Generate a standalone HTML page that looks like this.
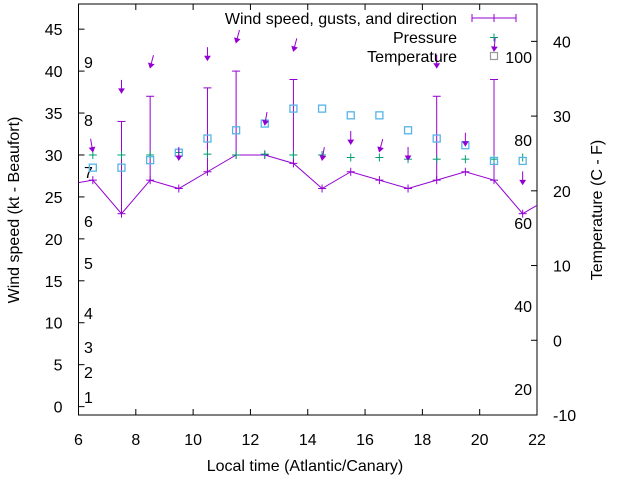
<!DOCTYPE html>
<html><head><meta charset="utf-8"><style>
html,body{margin:0;padding:0;background:#fff;}
svg{display:block;font-family:"Liberation Sans",sans-serif;}
</style></head><body>
<svg id="chart" width="640" height="480" viewBox="0 0 640 480" xmlns="http://www.w3.org/2000/svg"></svg>
<script>
const hours = [6.5,7.5,8.5,9.5,10.5,11.5,12.5,13.5,14.5,15.5,16.5,17.5,18.5,19.5,20.5,21.5];
const windSpeed = [27,23,27,26,28,30,30,29,26,28,27,26,27,28,27,23];
const windBefore = 26.4;
const windAfter = 25;
const gusts = [27,34,37,26,38,40,30,39,26,28,27,26,37,28,39,23];
const pressure = [30.0,30.0,30.0,30.3,30.1,30.0,30.1,30.0,30.0,29.7,29.7,29.5,29.5,29.5,29.5,29.7];
const temperature = [23.1,23.1,24.1,25.1,27.0,28.1,29.0,31.0,31.0,30.1,30.1,28.1,27.0,26.1,24.0,24.0];
const arrowLevel = [30.4,37.4,40.4,29.4,41.3,43.4,33.6,42.4,29.4,31.3,30.4,29.4,40.4,31.1,42.4,26.5];
const direction = [350,0,15,0,0,15,10,15,10,0,15,0,0,0,5,0];
const xTicks = [6,8,10,12,14,16,18,20,22];
const yTicks = [0,5,10,15,20,25,30,35,40,45];
const y2Ticks = [-10,0,10,20,30,40];
const beaufort = [[1,397],[2,372],[3,347],[4,313],[5,263],[6,221],[7,172],[8,120],[9,62]];
const fahrenheit = [[100,57],[80,140],[60,223],[40,306],[20,389]];

const L=78.5,R=537,T=4,B=415;
const X=h=>L+(h-6)*(R-L)/16;
const Y=v=>B-(v+1)*(B-T)/49;
const Y2=v=>B-(v+10)*(B-T)/55;
const svg=document.getElementById('chart');
const NS='http://www.w3.org/2000/svg';
function mk(tag,attrs,parent){const e=document.createElementNS(NS,tag);for(const k in attrs)e.setAttribute(k,attrs[k]);(parent||svg).appendChild(e);return e;}
function txt(s,x,y,anchor,size,parent){const e=mk('text',{x:x,y:y,'text-anchor':anchor,'font-size':size||16,fill:'#000'},parent);e.textContent=s;return e;}
const PURPLE='#9400d3',GREEN='#009e73',BLUE='#56b4e9';

const ax=mk('g',{});


mk('rect',{x:L,y:T,width:R-L,height:B-T,fill:'none',stroke:'#000','stroke-width':1},ax);
xTicks.forEach(t=>{const x=X(t);mk('line',{x1:x,y1:B,x2:x,y2:B-6,stroke:'#000'},ax);mk('line',{x1:x,y1:T,x2:x,y2:T+6,stroke:'#000'},ax);
 const e=txt(String(t),x,B+30,'middle',16,ax);});
yTicks.forEach(t=>{const y=Y(t);mk('line',{x1:L,y1:y,x2:L+6,y2:y,stroke:'#000'},ax);
 const e=txt(String(t),L-16,y+6,'end',16,ax);});
y2Ticks.forEach(t=>{const y=Y2(t);mk('line',{x1:R,y1:y,x2:R-6,y2:y,stroke:'#000'},ax);
 const e=txt(String(t),R+16,y+6,'start',16,ax);});
beaufort.forEach(b=>{const e=txt(String(b[0]),84,b[1]+6,'start',16,ax);});
fahrenheit.forEach(f=>{const e=txt(String(f[0]),532,f[1]+6,'end',16,ax);});
let t1=txt('Local time (Atlantic/Canary)',305,471,'middle',16);

let t2=txt('Wind speed (kt - Beaufort)',0,0,'middle',16);t2.setAttribute('transform','translate(19,210) rotate(-90)');

let t3=txt('Temperature (C - F)',0,0,'middle',16);t3.setAttribute('transform','translate(602,210) rotate(-90)');


const defs=mk('defs',{});mk('clipPath',{id:'pc'},defs);
mk('rect',{x:L,y:T,width:R-L,height:B-T},defs.firstChild);
const plot=mk('g',{'clip-path':'url(#pc)'});

const xs=[5.5].concat(hours,[22.5]);
const ws=[windBefore].concat(windSpeed,[windAfter]);
const line=mk('polyline',{points:xs.map((h,i)=>X(h)+','+Y(ws[i])).join(' '),fill:'none',stroke:PURPLE,'stroke-width':1},plot);


hours.forEach((h,i)=>{
 const x=X(h),y=Y(windSpeed[i]);
 const g=mk('g',{stroke:PURPLE,'stroke-width':1},plot);
 
 
 mk('line',{x1:x-4,y1:y,x2:x+4,y2:y},g);mk('line',{x1:x,y1:y-4,x2:x,y2:y+4},g);
 if(gusts[i]>windSpeed[i]){const gy=Y(gusts[i]);
  mk('line',{x1:x,y1:gy,x2:x,y2:y},g);mk('line',{x1:x-4,y1:gy,x2:x+4,y2:gy},g);}
 const py=Y(pressure[i]);
 const pg=mk('g',{stroke:GREEN,'stroke-width':1},plot);
 
 
 mk('line',{x1:x-4,y1:py,x2:x+4,y2:py},pg);mk('line',{x1:x,y1:py-4,x2:x,y2:py+4},pg);
 const ty=Y2(temperature[i]);
 const tr=mk('rect',{x:x-3.5,y:ty-3.5,width:7,height:7,fill:'none',stroke:BLUE,'stroke-width':1.3},plot);
 
 
 const ay=Y(arrowLevel[i]),a=direction[i]*Math.PI/180,len=13;
 const tx=x+Math.sin(a)*len,tyy=ay-Math.cos(a)*len;
 const ag=mk('g',{stroke:PURPLE,'stroke-width':1,fill:PURPLE},plot);
 
 
 mk('line',{x1:tx,y1:tyy,x2:x,y2:ay},ag);
 const ux=(x-tx)/len,uy=(ay-tyy)/len,hx=x-ux*4,hy=ay-uy*4;
 mk('polygon',{points:x+','+ay+' '+(hx-uy*2.5)+','+(hy+ux*2.5)+' '+(hx+uy*2.5)+','+(hy-ux*2.5)},ag);
});

const lg=mk('g',{});


txt('Wind speed, gusts, and direction',457,24,'end',16,lg);
txt('Pressure',457,43,'end',16,lg);
txt('Temperature',457,62,'end',16,lg);
mk('line',{x1:472,y1:18,x2:516,y2:18,stroke:PURPLE},lg);
mk('line',{x1:472,y1:14,x2:472,y2:22,stroke:PURPLE},lg);
mk('line',{x1:516,y1:14,x2:516,y2:22,stroke:PURPLE},lg);
mk('line',{x1:494,y1:14,x2:494,y2:22,stroke:PURPLE},lg);
mk('line',{x1:490,y1:37.5,x2:498,y2:37.5,stroke:GREEN},lg);
mk('line',{x1:494,y1:33.5,x2:494,y2:41.5,stroke:GREEN},lg);
mk('rect',{x:490.5,y:52.5,width:7,height:7,fill:'none',stroke:'#999','stroke-width':1.2},lg);
</script>
</body></html>
